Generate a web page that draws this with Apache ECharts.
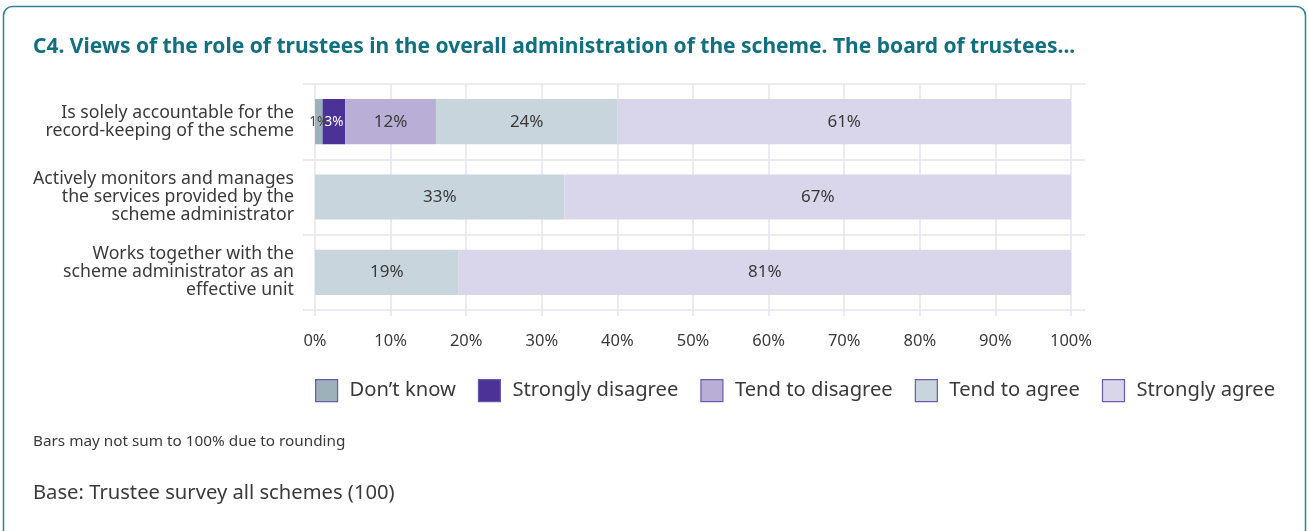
<!DOCTYPE html>
<html>
<head>
<meta charset="utf-8">
<style>
  html, body { margin: 0; padding: 0; background: #ffffff; }
  #chart { width: 1309px; height: 531px; }
</style>
<script src="https://cdn.jsdelivr.net/npm/echarts@6/dist/echarts.min.js"></script>
</head>
<body>
<div id="chart"></div>
<script>
// Survey statements (one bar each) and answer shares in percent
const categories = [
  'Is solely accountable for the\nrecord-keeping of the scheme',
  'Actively monitors and manages\nthe services provided by the\nscheme administrator',
  'Works together with the\nscheme administrator as an\neffective unit'
];
const responseNames = ['Don\u2019t know', 'Strongly disagree', 'Tend to disagree', 'Tend to agree', 'Strongly agree'];
const dontKnow = [1, 0, 0];
const stronglyDisagree = [3, 0, 0];
const tendToDisagree = [12, 0, 0];
const tendToAgree = [24, 33, 19];
const stronglyAgree = [61, 67, 81];
const xTickValues = [0, 10, 20, 30, 40, 50, 60, 70, 80, 90, 100];

const seriesValues = [dontKnow, stronglyDisagree, tendToDisagree, tendToAgree, stronglyAgree];
const colors = ['#9db1bb', '#4a3296', '#b9aed6', '#c8d5dc', '#d9d5ea'];
const labelColors = ['#444444', '#ffffff', '#3a3a3a', '#3a3a3a', '#3a3a3a'];
const gridColor = '#e6e3f2';
const textColor = '#3a3a3a';
const FONT = '"Noto Sans", "Open Sans", sans-serif';

const chart = echarts.init(document.getElementById('chart'), null, { renderer: 'canvas' });

const series = responseNames.map((name, i) => ({
  name: name,
  type: 'bar',
  stack: 'total',
  xAxisIndex: 0,
  yAxisIndex: 0,
  barWidth: '60%',
  itemStyle: { color: colors[i] },
  label: {
    show: true,
    position: 'inside',
    color: labelColors[i],
    fontFamily: FONT,
    fontSize: seriesValues[i][0] < 5 ? 13.5 : 17,
    formatter: p => (p.value > 0 ? p.value + '%' : '')
  },
  data: seriesValues[i]
}));

const option = {
  animation: false,
  textStyle: { fontFamily: FONT },
  title: [
    {
      text: 'C4. Views of the role of trustees in the overall administration of the scheme. The board of trustees...',
      left: 33, top: 37, padding: 0,
      textStyle: { color: '#11707f', fontSize: 21, fontWeight: 'bold', fontFamily: FONT }
    },
    {
      text: 'Bars may not sum to 100% due to rounding',
      left: 33, top: 434, padding: 0,
      textStyle: { color: textColor, fontSize: 15.3, fontWeight: 'normal', fontFamily: FONT }
    },
    {
      text: 'Base: Trustee survey all schemes (100)',
      left: 33, top: 483, padding: 0,
      textStyle: { color: textColor, fontSize: 20.2, fontWeight: 'normal', fontFamily: FONT }
    }
  ],
  graphic: [
    {
      type: 'rect',
      silent: true,
      shape: { x: 3.5, y: 6.5, width: 1302, height: 600, r: 9 },
      style: { fill: 'none', stroke: '#2b8594', lineWidth: 1.5 }
    }
  ],
  legend: {
    left: 315, top: 379, padding: 0,
    itemWidth: 22, itemHeight: 22,
    itemGap: 22,
    icon: 'rect',
    itemStyle: { borderColor: '#6b5aae', borderWidth: 1.2 },
    textStyle: { color: textColor, fontSize: 20.2, fontFamily: FONT, padding: [0, 0, 0, 7] },
    data: responseNames
  },
  grid: [
    { left: 315, right: 238, top: 84, height: 226 },
    { left: 303, right: 224, top: 84, height: 226 }
  ],
  xAxis: [
    {
      gridIndex: 0,
      type: 'value',
      min: xTickValues[0],
      max: xTickValues[xTickValues.length - 1],
      interval: 10,
      axisLine: { show: false },
      axisTick: { show: true, length: 6, lineStyle: { color: gridColor, width: 1.5 } },
      splitLine: { show: true, lineStyle: { color: gridColor, width: 1.5 } },
      axisLabel: { color: textColor, fontSize: 16.5, margin: 23, fontFamily: FONT, formatter: '{value}%' }
    },
    { gridIndex: 1, type: 'value', show: false, min: 0, max: 100 }
  ],
  yAxis: [
    {
      gridIndex: 0,
      type: 'category',
      inverse: true,
      data: categories,
      axisLine: { show: false },
      axisTick: { show: false },
      splitLine: { show: false },
      axisLabel: { color: textColor, fontSize: 17.7, lineHeight: 18, margin: 21, align: 'right', fontFamily: FONT }
    },
    {
      gridIndex: 1,
      type: 'category',
      inverse: true,
      data: categories,
      axisLine: { show: false },
      axisTick: { show: false },
      axisLabel: { show: false },
      splitLine: { show: true, lineStyle: { color: gridColor, width: 1.5 } }
    }
  ],
  series: series
};

chart.setOption(option);
</script>
</body>
</html>
